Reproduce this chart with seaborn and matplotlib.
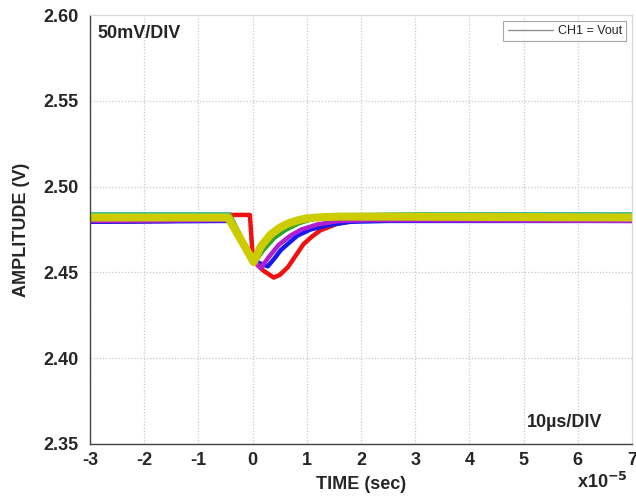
import matplotlib
matplotlib.use("Agg")
import matplotlib.pyplot as plt
import seaborn as sns
import pandas as pd
from matplotlib.lines import Line2D

# time in units of 1e-5 s, amplitude in V
red_t = [-3.0, -1.5, -0.4, -0.05, 0.0, 0.03, 0.2, 0.39, 0.5, 0.65, 0.8, 0.94, 1.1, 1.25, 1.57, 2.0, 3.0, 5.0, 7.0]
red_v = [2.4795, 2.4800, 2.4835, 2.4835, 2.4600, 2.4560, 2.4510, 2.4470, 2.4485, 2.4530, 2.4600, 2.4665, 2.4710, 2.4745, 2.4785, 2.4805, 2.4810, 2.4805, 2.4805]
blue_t = [-3.0, -0.42, 0.0, 0.28, 0.4, 0.52, 0.7, 0.83, 1.07, 1.4, 1.8, 2.5, 7.0]
blue_v = [2.4795, 2.4800, 2.4570, 2.4535, 2.4580, 2.4630, 2.4680, 2.4715, 2.4750, 2.4775, 2.4795, 2.4800, 2.4800]
magenta_t = [-3.0, -0.42, 0.0, 0.15, 0.3, 0.48, 0.7, 0.9, 1.2, 1.6, 2.2, 7.0]
magenta_v = [2.4800, 2.4805, 2.4580, 2.4525, 2.4590, 2.4660, 2.4715, 2.4750, 2.4780, 2.4800, 2.4805, 2.4800]
green_t = [-3.0, -0.42, 0.03, 0.2, 0.4, 0.6, 0.85, 1.1, 1.5, 3.0, 7.0]
green_v = [2.4838, 2.4838, 2.4555, 2.4630, 2.4700, 2.4745, 2.4785, 2.4810, 2.4830, 2.4838, 2.4838]
cyan_t = [-3.0, -0.45, 0.0, 0.2, 0.4, 0.6, 0.85, 1.1, 1.5, 3.0, 7.0]
cyan_v = [2.4840, 2.4840, 2.4570, 2.4660, 2.4725, 2.4765, 2.4800, 2.4820, 2.4835, 2.4840, 2.4840]
yellow_t = [-3.0, -0.45, 0.02, 0.15, 0.33, 0.5, 0.65, 0.85, 1.0, 1.3, 1.6, 2.5, 7.0]
yellow_v = [2.4820, 2.4820, 2.4560, 2.4650, 2.4720, 2.4760, 2.4785, 2.4805, 2.4815, 2.4822, 2.4825, 2.4825, 2.4820]

trace_names = ["red", "blue", "magenta", "green", "cyan", "yellow"]
x_ticks = [-3, -2, -1, 0, 1, 2, 3, 4, 5, 6, 7]
y_ticks = [2.35, 2.40, 2.45, 2.50, 2.55, 2.60]
y_labels = ["2.35", "2.40", "2.45", "2.50", "2.55", "2.60"]

series = {
    "red": (red_t, red_v), "blue": (blue_t, blue_v), "magenta": (magenta_t, magenta_v),
    "green": (green_t, green_v), "cyan": (cyan_t, cyan_v), "yellow": (yellow_t, yellow_v),
}
rows = []
for name in trace_names:
    t, v = series[name]
    for a, b in zip(t, v):
        rows.append({"time": a, "amp": b, "trace": name})
df = pd.DataFrame(rows)

palette = {"red": "#f01010", "blue": "#1818f0", "magenta": "#b020d0",
           "green": "#30a030", "cyan": "#30c0b0", "yellow": "#cccc00"}
widths = {"red": 3.2, "blue": 3.2, "magenta": 3.2, "green": 3.0, "cyan": 2.6, "yellow": 5.8}

sns.set_style("white")
plt.rcParams["font.family"] = ["Liberation Sans", "DejaVu Sans"]

fig = plt.figure(figsize=(6.36, 4.97), dpi=100)
ax = fig.add_axes([90/636, 1-444/497, (632-90)/636, (444-15)/497])

for name in trace_names:
    sns.lineplot(data=df[df.trace == name], x="time", y="amp", color=palette[name],
                 lw=widths[name], ax=ax, legend=False, solid_capstyle="round",
                 solid_joinstyle="round")

ax.set_xlim(-3, 7)
ax.set_ylim(2.35, 2.60)
ax.set_xticks(x_ticks)
ax.set_xticklabels([str(v) for v in x_ticks], fontsize=13, fontweight="bold")
ax.set_yticks(y_ticks)
ax.set_yticklabels(y_labels, fontsize=13, fontweight="bold")
ax.grid(True, color="#c8c8c8", linestyle=(0, (1, 1.5)), linewidth=0.9)
ax.tick_params(axis="x", direction="in", length=4, color="#444444", pad=6)
ax.tick_params(axis="y", direction="out", length=2, color="#999999", pad=6)
for s in ["left", "bottom"]:
    ax.spines[s].set_color("#444444")
    ax.spines[s].set_linewidth(1.0)
for s in ["top", "right"]:
    ax.spines[s].set_color("#d8d8d8")
    ax.spines[s].set_linewidth(0.8)

ax.set_xlabel("TIME (sec)", fontsize=13, fontweight="bold", labelpad=5)
ax.set_ylabel("AMPLITUDE (V)", fontsize=13, fontweight="bold", labelpad=10)

ax.text(0.013, 0.958, "50mV/DIV", transform=ax.transAxes, fontsize=13,
        fontweight="bold", va="center", ha="left")
ax.text(0.945, 0.051, "10µs/DIV", transform=ax.transAxes, fontsize=13,
        fontweight="bold", va="center", ha="right")
fig.text(602/636, 1-482/497, "x10$^{\\mathbf{-5}}$", fontsize=13, fontweight="bold",
         ha="center", va="center")

handle = Line2D([0], [0], color="#909090", lw=1)
leg = ax.legend(handles=[handle], labels=["CH1 = Vout"], loc="upper right",
                fontsize=9, frameon=True, fancybox=False, handlelength=3.6,
                borderaxespad=0.45, borderpad=0.35, handletextpad=0.4)
leg.get_frame().set_edgecolor("#909090")
leg.get_frame().set_linewidth(0.8)

fig.savefig("out.png", dpi=100)
